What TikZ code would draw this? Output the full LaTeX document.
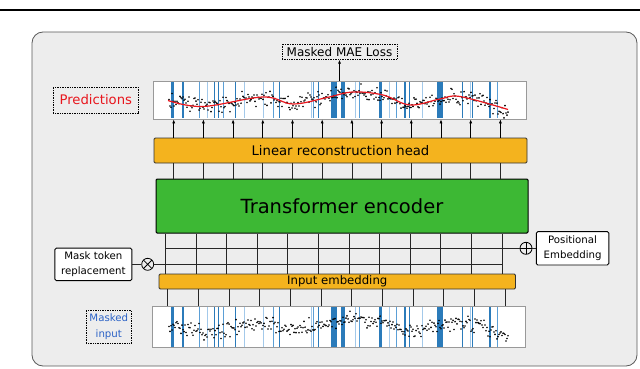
\documentclass[tikz,border=0pt]{standalone}
\usepackage{fontspec}
\setmainfont{DejaVu Sans}
\usetikzlibrary{calc,arrows.meta,positioning}
\definecolor{panelgray}{HTML}{EDEDED}
\definecolor{headorange}{HTML}{F4B31E}
\definecolor{encgreen}{HTML}{3DB834}
\definecolor{maskblue}{HTML}{2B7BBA}
\definecolor{midblue}{HTML}{5B9FD6}
\definecolor{lightblue}{HTML}{A3C9EA}
\definecolor{predred}{HTML}{E8161D}
\definecolor{inputblue}{HTML}{2B62C6}
\newcommand{\fsz}[2]{\fontsize{#1}{#2}\selectfont}

\begin{document}
\begin{tikzpicture}[x=1pt, y=-1pt, node distance=8pt,
    every node/.style={inner sep=1pt, text=black},
    block/.style={draw=black!80, line width=0.8pt, rounded corners=1.2pt},
    note/.style={draw, fill=white, line width=0.9pt, rounded corners=1.5pt, align=center, font=\fsz{10.2}{15.5}},
    lbl/.style={draw, densely dotted, line width=0.7pt},
    plotbox/.style={draw=black!40, fill=white, line width=0.7pt, inner sep=0pt},
    tip/.style={-{Latex[length=4pt,width=3pt]}, line width=0.7pt},
    wire/.style={line width=0.8pt, black!85},
    junction/.style={circle, draw, line width=0.8pt, fill=panelgray, minimum size=12pt, inner sep=0pt}]
    \useasboundingbox (0,0) rectangle (640,369);
    \draw[line width=2pt] (0,10) -- (640,10);
    \draw[black!65, fill=panelgray, rounded corners=11pt, line width=0.8pt] (32,32) rectangle (637,366);

    \node[plotbox, minimum width=373pt, minimum height=38pt] (toppl) at (339.5,100) {};
    \node[plotbox, minimum width=373.5pt, minimum height=41.5pt] (botpl) at (338.75,326.75) {};
    \node[block, fill=headorange, minimum width=373pt, minimum height=25pt, font=\fsz{13.2}{15}] (head) at (340.5,150.5) {Linear reconstruction head};
    \node[block, fill=encgreen, draw=black, line width=1pt, minimum width=372pt, minimum height=54pt, font=\fsz{19.5}{22}] (enc) at (342,206) {Transformer encoder};
    \node[block, fill=headorange, minimum width=356.5pt, minimum height=15pt, font=\fsz{11.7}{13}] (inp) at (337.25,281.5) {Input embedding};

    \node[lbl, above=21pt of toppl, minimum width=115pt, minimum height=15pt, font=\fsz{12}{14}] (loss) {Masked MAE Loss};
    \node[lbl, left=14pt of toppl, minimum width=85pt, minimum height=26pt, text=predred, font=\fsz{13.2}{15}] (pred) {Predictions};
    \node[lbl, left=20pt of botpl, minimum width=45pt, minimum height=33pt, align=center, text=inputblue, font=\fsz{10.2}{15.5}] (mskin) {Masked\\input};

    \node[junction, path picture={\draw[line width=0.8pt] (path picture bounding box.north west) -- (path picture bounding box.south east) (path picture bounding box.south west) -- (path picture bounding box.north east);}] (otimes) at (147.7,264.3) {};
    \node[junction, path picture={\draw[line width=0.8pt] (path picture bounding box.north) -- (path picture bounding box.south) (path picture bounding box.west) -- (path picture bounding box.east);}] (oplus) at (526,248.3) {};
    \node[note, left=9pt of otimes, minimum width=77pt, minimum height=32.5pt] (masktok) {Mask token\\replacement};
    \node[note, right=3.5pt of oplus, minimum width=72.5pt, minimum height=33.4pt] (posemb) {Positional\\Embedding};

    \begin{scope}
        \clip (toppl.south west) rectangle (toppl.north east) (botpl.south west) rectangle (botpl.north east);
        \foreach \bx/\bw/\bc in {172.5/3.5/maskblue, 183/2.5/maskblue, 199.5/1.2/midblue, 207.7/1/lightblue, 214.7/1.5/maskblue, 218.7/1.3/maskblue, 223/1/midblue, 235.7/1.5/maskblue, 244.3/1/lightblue, 263.3/1/lightblue, 273.3/1/midblue, 279.3/1.5/maskblue, 311.7/1/lightblue, 313.3/1/midblue, 318.3/1/maskblue, 333.7/6/maskblue, 343.3/4/maskblue, 355/1/lightblue, 359/1/midblue, 380.7/3/maskblue, 389.3/1/lightblue, 396.7/1/midblue, 405/1.5/maskblue, 409.3/1.5/maskblue, 422.3/1/lightblue, 440/6/maskblue, 462.7/1.5/maskblue, 470/1/lightblue, 472.5/1.2/maskblue, 490/1.5/maskblue, 497.7/1/midblue} {
            \fill[\bc] ({\bx-\bw/2},82) rectangle ({\bx+\bw/2},118);
            \fill[\bc] ({\bx-\bw/2},307) rectangle ({\bx+\bw/2},347);
        }
        \pgfmathsetseed{42}
        \foreach \xa/\ya/\xb/\yb/\n in {168/100.5/203/106.5/35, 203/106.5/263/97/60, 263/97/293/104/30, 293/104/327/97.5/34, 327/97.5/353/92/26, 353/92/383/95/30, 383/95/410/105/27, 410/105/440/99/30, 440/99/460/96.5/20, 460/96.5/508/109.5/48} {
            \foreach \k in {1,...,\n} {
                \pgfmathsetmacro\px{\xa+(\xb-\xa)*\k/\n}
                \pgfmathsetmacro\cy{\ya+(\yb-\ya)*(1-cos(180*\k/\n))/2}
                \pgfmathsetmacro\na{3.8*(rand+rand+rand)}
                \pgfmathsetmacro\nb{3.8*(rand+rand+rand)}
                \fill[black] (\px,\cy+\na) circle (0.9pt);
                \fill[black] (\px,\cy+226+\nb) circle (0.9pt);
            }
        }
        \draw[predred, line width=1.2pt] plot[smooth, tension=0.6] coordinates {(168,100.5) (203,106.5) (263,97) (293,104) (327,97.5) (353,92) (383,95) (410,105) (440,99) (460,96.5) (508,109.5)};
    \end{scope}

    \draw[tip] (toppl) -- (loss);
    \foreach \i [evaluate=\i as \ax using 173.7+29.7*\i] in {0,...,11} {
        \draw[tip] (\ax,0 |- head.north) -- (\ax,0 |- toppl.south);
        \draw[wire] (\ax,0 |- enc.north) -- (\ax,0 |- head.south);
    }
    \foreach \i [evaluate=\i as \bx using 165.3+30.6*\i, evaluate=\i as \cx using 167.5+30.7*\i] in {0,...,11} {
        \draw[wire] (\bx,0 |- enc.south) -- (\bx,0 |- inp.north);
        \draw[wire] (\cx,0 |- inp.south) -- (\cx,0 |- botpl.north);
    }
    \coordinate (pe0) at (165.3,248.3);
    \coordinate (mk1) at (502,264.3);
    \draw[wire] (pe0) -- (oplus) -- (posemb);
    \draw[wire] (masktok) -- (otimes) -- (mk1);
\end{tikzpicture}
\end{document}
